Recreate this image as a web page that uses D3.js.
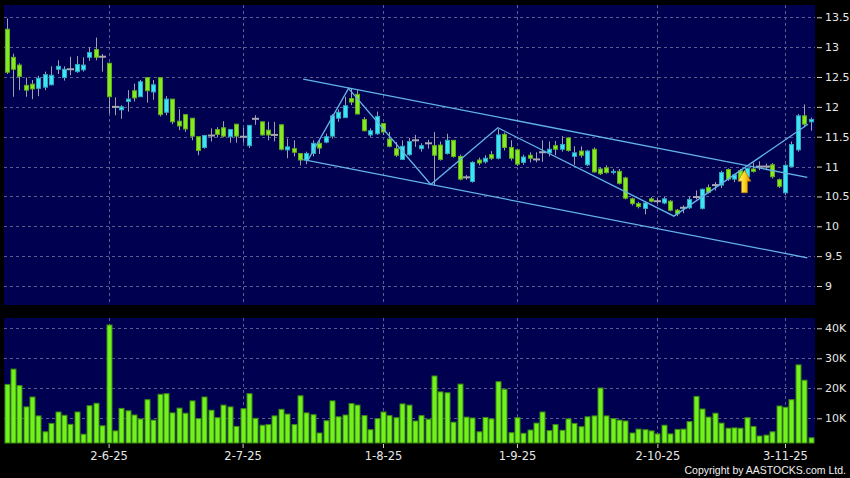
<!DOCTYPE html>
<html><head><meta charset="utf-8">
<script src="https://cdn.jsdelivr.net/npm/d3@7"></script>
<style>html,body{margin:0;padding:0;background:#000;} svg{display:block;}</style>
</head><body>
<svg id="c" width="850" height="478"></svg>
<script>
// ---- data (index = trading day, 0..126) ----
const opens  = [13.30,12.83,12.70,12.36,12.38,12.31,12.33,12.37,12.63,12.49,12.63,12.59,12.62,12.83,12.96,12.84,12.73,12.00,11.95,12.09,12.27,12.17,12.49,12.25,12.49,11.91,12.13,11.76,11.87,11.81,11.50,11.32,11.52,11.62,11.65,11.50,11.71,11.50,11.35,11.80,11.75,11.61,11.53,11.70,11.28,11.30,11.22,11.11,11.22,11.39,11.41,11.51,11.81,11.82,12.14,12.21,11.79,11.53,11.55,11.72,11.46,11.30,11.12,11.20,11.44,11.30,11.39,11.35,11.36,11.22,11.44,11.17,10.82,10.75,11.11,11.08,11.20,11.14,11.54,11.32,11.28,11.07,11.19,11.12,11.24,11.23,11.35,11.29,11.48,11.17,11.26,11.03,11.29,10.96,10.98,10.90,10.92,10.81,10.46,10.38,10.30,10.46,10.42,10.39,10.42,10.27,10.31,10.31,10.49,10.30,10.65,10.69,10.69,10.95,10.79,10.93,10.83,10.96,11.00,11.00,11.03,10.78,10.56,11.00,11.28,11.85,11.75];
const highs  = [13.48,12.89,12.73,12.49,12.45,12.52,12.59,12.68,12.78,12.68,12.84,12.85,12.83,13.00,13.16,12.885,12.74,12.16,12.03,12.28,12.39,12.45,12.49,12.45,12.49,12.18,12.13,11.96,11.87,11.81,11.50,11.53,11.64,11.66,11.76,11.62,11.71,11.65,11.69,11.86,11.75,11.75,11.75,11.70,11.47,11.44,11.22,11.25,11.44,11.44,11.55,11.88,11.96,12.17,12.31,12.28,11.83,11.64,11.92,11.72,11.58,11.41,11.44,11.48,11.53,11.39,11.45,11.58,11.42,11.55,11.44,11.20,10.86,11.09,11.15,11.19,11.26,11.63,11.57,11.44,11.30,11.20,11.24,11.24,11.44,11.42,11.43,11.51,11.49,11.34,11.34,11.28,11.32,10.99,11.02,10.96,10.96,10.83,10.48,10.41,10.42,10.49,10.47,10.49,10.44,10.29,10.35,10.50,10.60,10.63,10.70,10.74,10.93,10.97,10.88,10.96,10.98,11.07,11.09,11.05,11.06,10.80,11.04,11.42,11.88,12.04,11.82];
const lows   = [12.55,12.17,12.28,12.17,12.13,12.18,12.28,12.36,12.55,12.44,12.53,12.57,12.59,12.77,12.78,12.59,11.89,11.86,11.80,11.92,12.09,12.17,12.07,12.12,11.84,11.86,11.71,11.61,11.58,11.44,11.19,11.30,11.42,11.49,11.49,11.40,11.40,11.40,11.31,11.70,11.52,11.44,11.42,11.27,11.14,11.17,11.02,11.04,11.17,11.21,11.39,11.47,11.75,11.82,12.03,11.88,11.59,11.50,11.53,11.53,11.32,11.16,11.11,11.18,11.33,11.25,11.30,10.69,11.10,11.20,11.15,10.77,10.78,10.73,11.02,11.05,11.11,11.12,11.27,11.10,11.01,11.03,11.07,11.07,11.08,11.17,11.19,11.25,11.25,11.03,11.15,11.01,10.90,10.86,10.88,10.87,10.70,10.45,10.35,10.30,10.20,10.40,10.38,10.37,10.25,10.17,10.22,10.29,10.45,10.28,10.55,10.60,10.64,10.76,10.74,10.77,10.80,10.90,10.94,10.94,10.80,10.64,10.52,10.99,11.25,11.66,11.60];
const closes = [12.58,12.63,12.51,12.28,12.30,12.48,12.54,12.53,12.68,12.63,12.63,12.71,12.70,12.91,12.83,12.84,12.17,12.00,12.00,12.13,12.15,12.42,12.27,12.37,11.87,12.13,11.75,11.68,11.63,11.51,11.27,11.52,11.52,11.54,11.51,11.62,11.51,11.50,11.69,11.80,11.53,11.53,11.53,11.29,11.33,11.24,11.11,11.22,11.39,11.31,11.50,11.85,11.91,12.02,12.08,11.88,11.60,11.60,11.84,11.58,11.34,11.19,11.34,11.42,11.44,11.35,11.39,11.19,11.12,11.44,11.17,10.79,10.82,11.07,11.06,11.14,11.14,11.53,11.32,11.14,11.04,11.16,11.14,11.12,11.24,11.29,11.29,11.37,11.27,11.23,11.19,11.26,10.91,10.88,10.90,10.92,10.72,10.47,10.38,10.33,10.39,10.42,10.42,10.46,10.27,10.21,10.31,10.45,10.49,10.62,10.57,10.69,10.90,10.79,10.86,10.78,10.97,10.92,11.00,11.00,10.83,10.67,11.02,11.37,11.85,11.71,11.79];
const volumesK = [21.3,26.4,20.9,13.8,17.1,10.8,5.5,8.3,12.1,11.0,8.0,12.1,4.7,14.2,15.0,7.5,41.1,5.8,13.3,12.5,11.1,9.8,16.2,9.4,18.0,18.2,11.8,13.4,11.7,15.8,9.9,17.1,12.7,10.2,14.4,13.8,7.3,13.2,18.2,10.0,7.7,7.9,10.8,13.0,11.4,7.9,17.5,11.8,11.2,5.1,9.2,15.8,10.5,11.1,14.9,14.4,10.9,6.2,9.9,12.1,10.9,10.2,14.8,14.4,9.1,10.9,9.7,24.1,18.8,18.5,8.7,21.4,10.4,10.1,5.5,10.3,9.8,22.2,19.7,5.2,10.2,5.0,6.1,8.4,12.1,5.9,7.9,6.0,9.8,8.3,7.2,10.5,10.8,20.1,10.8,9.9,9.4,9.1,5.1,6.4,6.2,5.8,4.8,7.7,4.8,6.3,6.4,8.9,17.3,13.1,10.4,11.7,8.4,6.7,6.8,6.7,10.2,7.3,4.1,4.4,5.5,14.1,13.7,16.2,27.8,22.7,3.5];

const dateTickIndex  = [16,37,59,80,102,122];
const dateTickLabels = ["2-6-25","2-7-25","1-8-25","1-9-25","2-10-25","3-11-25"];
const priceTicks = [9,9.5,10,10.5,11,11.5,12,12.5,13,13.5];
const priceTickLabels = ["9","9.5","10","10.5","11","11.5","12","12.5","13","13.5"];
const volTicks = [10,20,30,40];
const volTickLabels = ["10K","20K","30K","40K"];

// drawn trend lines, [index, price]
const channelUpper = [[46.5,12.466],[125.5,10.82]];
const channelLower = [[46.5,11.115],[125.5,9.473]];
const zigzag = [[47.2,11.10],[53.6,12.31],[66.5,10.70],[77.0,11.65],[104.6,10.17],[125.6,11.71]];
const arrowMark = {index:115.65, top:10.94, bottom:10.56};

// ---- layout ----
const svg = d3.select("#c");
const L = 4, R = 815;
const pTop = 5, pBot = 305, vTop = 318, vBot = 443;
const N = opens.length;

const x = d3.scaleLinear().domain([0, N-1]).range([6.5, 810.5]);
const yP = d3.scaleLinear().domain([8.682, 13.706]).range([pBot, pTop]);
const yV = d3.scaleLinear().domain([1.77, 43.43]).range([vBot, vTop]);

svg.append("rect").attr("width",850).attr("height",478).attr("fill","#000");
svg.append("rect").attr("x",L).attr("y",pTop).attr("width",R-L).attr("height",pBot-pTop).attr("fill","#000050");
svg.append("rect").attr("x",L).attr("y",vTop).attr("width",R-L).attr("height",vBot-vTop).attr("fill","#000050");

const gridColor = "#5c5c8e";
const grid = svg.append("g").attr("stroke",gridColor).attr("stroke-width",1).attr("stroke-dasharray","3,3").attr("fill","none");
priceTicks.forEach(t => grid.append("line").attr("x1",L).attr("x2",R).attr("y1",Math.round(yP(t))+0.5).attr("y2",Math.round(yP(t))+0.5));
volTicks.forEach(t => grid.append("line").attr("x1",L).attr("x2",R).attr("y1",Math.round(yV(t))+0.5).attr("y2",Math.round(yV(t))+0.5));
dateTickIndex.forEach(i => {
  const xx = Math.round(x(i))+0.5;
  grid.append("line").attr("x1",xx).attr("x2",xx).attr("y1",pTop).attr("y2",pBot);
  grid.append("line").attr("x1",xx).attr("x2",xx).attr("y1",vTop).attr("y2",vBot);
});

// ---- candles ----
const idx = d3.range(N);
const cg = svg.append("g");
cg.selectAll("line.wick").data(idx).join("line")
  .attr("x1", i => Math.round(x(i))+0.5).attr("x2", i => Math.round(x(i))+0.5)
  .attr("y1", i => yP(highs[i])).attr("y2", i => yP(lows[i]))
  .attr("stroke","#a0a0a8").attr("stroke-width",1);
const bw = 5;
cg.selectAll("rect.body").data(idx.filter(i => opens[i] !== closes[i])).join("rect")
  .attr("x", i => Math.round(x(i)) - 2 + 0.5).attr("width", bw - 1)
  .attr("y", i => yP(Math.max(opens[i],closes[i])))
  .attr("height", i => Math.max(1, Math.abs(yP(opens[i]) - yP(closes[i]))))
  .attr("fill", i => closes[i] > opens[i] ? "#3ee4f0" : "#86ea22")
  .attr("stroke", i => closes[i] > opens[i] ? "#2aa9c0" : "#5fae1a")
  .attr("stroke-width",1);
cg.selectAll("line.doji").data(idx.filter(i => opens[i] === closes[i])).join("line")
  .attr("x1", i => Math.round(x(i)) - 3).attr("x2", i => Math.round(x(i)) + 4)
  .attr("y1", i => yP(opens[i])).attr("y2", i => yP(opens[i]))
  .attr("stroke","#a8a8b0").attr("stroke-width",2);

// ---- trend lines ----
const line = d3.line().x(d => x(d[0])).y(d => yP(d[1]));
const tl = svg.append("g").attr("fill","none").attr("stroke","#62b4e6").attr("stroke-width",1.3);
[channelUpper, channelLower, zigzag].forEach(p => tl.append("path").attr("d", line(p)));

// ---- arrow ----
const defs = svg.append("defs");
const gr = defs.append("linearGradient").attr("id","ag").attr("x1","0").attr("x2","1").attr("y1","0").attr("y2","0");
gr.append("stop").attr("offset","0%").attr("stop-color","#fff38a");
gr.append("stop").attr("offset","50%").attr("stop-color","#ffd21c");
gr.append("stop").attr("offset","100%").attr("stop-color","#d98a00");
const ax = x(arrowMark.index), at = yP(arrowMark.top), ab = yP(arrowMark.bottom);
const hw = 6.5, sw = 3, hh = 11;
svg.append("path")
  .attr("d", `M${ax},${at} L${ax+hw},${at+hh} L${ax+sw},${at+hh} L${ax+sw},${ab} L${ax-sw},${ab} L${ax-sw},${at+hh} L${ax-hw},${at+hh} Z`)
  .attr("fill","url(#ag)").attr("stroke","#b37400").attr("stroke-width",0.6);

// ---- volume ----
svg.append("g").selectAll("rect").data(idx).join("rect")
  .attr("x", i => Math.round(x(i)) - 2.5 + 0.5).attr("width", 5)
  .attr("y", i => yV(volumesK[i])).attr("height", i => vBot - yV(volumesK[i]))
  .attr("fill","#72f21c").attr("stroke","#3d8a12").attr("stroke-width",1);

// ---- axes ----
const font = "DejaVu Sans, Verdana, sans-serif";
function styleAxis(g, size){
  g.select(".domain").remove();
  g.selectAll("line").attr("stroke","#cfcfcf");
  g.selectAll("text").attr("fill","#e6e6e6").attr("font-family",font).attr("font-size",size);
}
svg.append("g").attr("transform",`translate(${R+2},0)`)
  .call(d3.axisRight(yP).tickValues(priceTicks).tickFormat((d,i)=>priceTickLabels[i]).tickSize(5).tickPadding(3))
  .call(g => styleAxis(g, 11));
svg.append("g").attr("transform",`translate(${R+2},0)`)
  .call(d3.axisRight(yV).tickValues(volTicks).tickFormat((d,i)=>volTickLabels[i]).tickSize(5).tickPadding(3))
  .call(g => styleAxis(g, 11));
svg.append("g").attr("transform",`translate(0,${vBot+1})`)
  .call(d3.axisBottom(x).tickValues(dateTickIndex).tickFormat((d,i)=>dateTickLabels[i]).tickSize(4).tickPadding(4))
  .call(g => styleAxis(g, 11.5));

svg.append("text").attr("x",846).attr("y",474).attr("text-anchor","end")
  .attr("font-family","Liberation Sans, Arial, sans-serif").attr("font-size",10.5).attr("fill","#f0f0f0")
  .text("Copyright by AASTOCKS.com Ltd.");
</script>
</body></html>
